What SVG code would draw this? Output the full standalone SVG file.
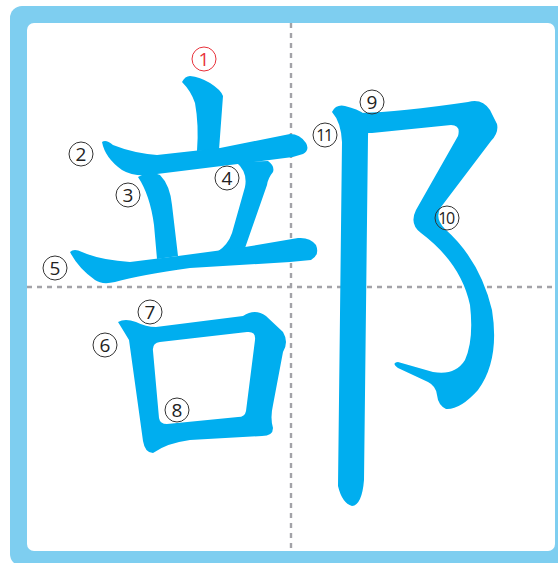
<svg xmlns="http://www.w3.org/2000/svg" width="558" height="563" viewBox="0 0 558 563">
<style>
.stroke{fill:#00AEEF;fill-rule:evenodd}
.guide{stroke:#A3A3A8;stroke-width:2.4;stroke-dasharray:5 5;fill:none}
.num circle{fill:none;stroke:#333;stroke-width:1}
.num text{font-family:"Open Sans","Noto Sans",sans-serif;font-size:19px;fill:#222;text-anchor:middle;dominant-baseline:central}
.num text.two{font-size:16px;letter-spacing:-1.5px}
.first circle{stroke:#E8313A}
.first text{fill:#E8313A}
</style>
<rect x="10" y="6" width="570" height="560" rx="12" fill="#7ECEF0"/>
<rect x="27" y="23" width="528" height="528" rx="7" fill="#FFFFFF"/>
<g id="guides">
<line class="guide" x1="291" y1="23" x2="291" y2="551"/>
<line class="guide" x1="27" y1="287" x2="555" y2="287"/>
</g>
<g id="character">
<path id="s1" class="stroke" d="M182,82 Q185,76 190,76 Q200,77 210,83 Q221,90 223,96 L219,150 L197,151 Q199,125 195,103 Q191,91 182,82 Z"/>
<path id="s2" class="stroke" d="M102,142 Q106,139 113,145 Q133,153 157,155 L220,148 L290,134 Q300,134 306,143 Q310,150 303,154 Q295,157 285,158 L157,174 Q135,178 122,170 Q105,158 102,142 Z"/>
<path id="s3" class="stroke" d="M138,177 Q150,170 160,175 Q170,185 172,205 L178,256 L157,259 L154,225 Q150,195 138,177 Z"/>
<path id="s4" class="stroke" d="M236,162 L268,161 Q275,166 273,172 Q268,178 267,185 L245,248 L217,252 Q228,245 232,233 L245,187 Q248,172 236,162 Z"/>
<path id="s5" class="stroke" d="M70,252 Q74,248 82,252 Q100,260 130,262 L178,256 L245,247 L298,238 Q310,237 316,245 Q320,255 311,260 L290,262 L190,268 Q140,275 115,282 Q102,285 95,280 Q78,268 70,252 Z"/>
<path id="s678" class="stroke" d="M118,322 Q125,318 136,322 Q146,327 156,327 L243,316 Q255,308 266,316 L283,332 Q289,342 283,352 L273,405 Q270,418 273,428 Q273,436 262,436 L190,440 Q167,443 153,453 Q145,453 143,441 L129,340 Q123,330 118,322 Z M153,351 Q152,343 160,342 L247,332 Q256,331 255,340 L246,411 Q245,417 238,417 L167,424 Q160,424 159,418 Z"/>
<path id="s9-10" class="stroke" d="M360,113 Q400,112 468,102 Q482,98 490,110 L497,124 Q499,133 491,141 L441,207 Q434,218 445,229 Q480,260 492,310 Q500,360 478,390 Q460,410 446,409 Q438,405 437,395 Q436,386 428,382 L398,368 Q391,363 398,362 L433,372 Q455,376 465,360 Q474,340 470,305 Q461,263 421,233 Q409,224 416,210 L458,136 Q461,125 451,125 L372,133 L362,133 Z"/>
<path id="s11" class="stroke" d="M332,112 Q336,104 345,106 Q358,109 364,114 Q369,121 368,136 L364,480 Q362,505 352,506 Q342,503 338,486 L342,142 Q341,122 332,112 Z"/>
</g>
<g id="numbers">
<g id="n1" class="num first"><circle cx="204" cy="59" r="12"/><text x="204" y="59">1</text></g>
<g id="n2" class="num"><circle cx="81" cy="154" r="12"/><text x="81" y="154">2</text></g>
<g id="n3" class="num"><circle cx="128" cy="195" r="12"/><text x="128" y="195">3</text></g>
<g id="n4" class="num"><circle cx="227" cy="178" r="12"/><text x="227" y="178">4</text></g>
<g id="n5" class="num"><circle cx="55" cy="268" r="12"/><text x="55" y="268">5</text></g>
<g id="n6" class="num"><circle cx="105" cy="345" r="12"/><text x="105" y="345">6</text></g>
<g id="n7" class="num"><circle cx="150" cy="312" r="12"/><text x="150" y="312">7</text></g>
<g id="n8" class="num"><circle cx="177" cy="410" r="12"/><text x="177" y="410">8</text></g>
<g id="n9" class="num"><circle cx="372" cy="102" r="12"/><text x="372" y="102">9</text></g>
<g id="n10" class="num"><circle cx="447" cy="218" r="12"/><text class="two" x="446" y="218">10</text></g>
<g id="n11" class="num"><circle cx="325" cy="135" r="12"/><text class="two" x="324" y="135">11</text></g>
</g>
</svg>
